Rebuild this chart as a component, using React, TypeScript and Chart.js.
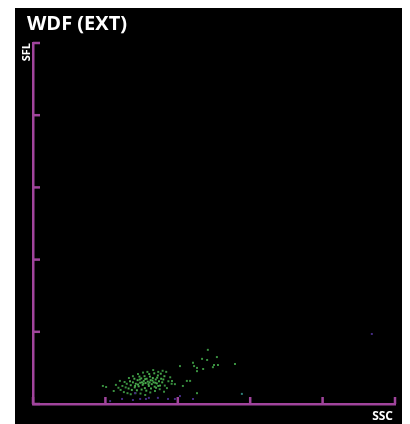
import React, { useEffect, useRef } from "react";
import { Chart, registerables } from "chart.js";

Chart.register(...registerables);

// Axis range and tick spacing (arbitrary channel units)
const xTicks = [0, 20, 40, 60, 80, 100];
const yTicks = [0, 20, 40, 60, 80, 100];

const titleText = "WDF (EXT)";
const xAxisLabel = "SSC";
const yAxisLabel = "SFL";

// Main neutrophil/eosinophil cloud
const greenCore: [number, number][] = [
  [27.0, 5.2], [27.6, 6.0], [28.1, 4.6], [28.4, 5.6], [28.9, 6.6], [29.2, 4.9], [29.6, 5.9],
  [29.9, 7.1], [30.3, 5.3], [30.6, 6.4], [30.9, 4.4], [31.1, 5.8], [31.4, 7.0], [31.7, 6.2],
  [32.0, 5.0], [32.3, 7.6], [32.5, 6.6], [32.8, 5.5], [33.1, 7.2], [33.3, 6.0], [33.6, 4.8],
  [33.9, 6.8], [34.2, 5.7], [34.5, 7.9], [34.8, 6.3], [35.1, 5.1], [35.4, 7.0], [35.7, 6.0],
  [26.4, 4.3], [26.8, 6.3], [27.3, 3.9], [28.0, 7.0], [28.7, 3.8], [29.4, 7.6], [30.0, 4.0],
  [30.8, 7.7], [31.3, 3.7], [32.1, 8.3], [32.6, 4.3], [33.5, 8.5], [34.0, 4.5], [34.6, 5.0],
  [35.3, 8.4], [36.0, 6.8], [36.3, 7.7], [29.0, 5.4], [30.1, 6.0], [31.9, 5.5], [33.0, 6.5],
  [31.0, 6.9], [28.2, 5.0], [30.5, 5.7], [32.2, 6.0], [33.8, 5.9], [29.5, 6.8], [34.3, 7.3],
];

const greenOuter: [number, number][] = [
  [24.2, 3.9], [24.7, 5.0], [25.1, 3.3], [25.6, 4.6], [25.9, 5.6], [26.1, 3.0], [27.0, 2.7],
  [28.3, 3.0], [29.7, 2.9], [31.0, 2.5], [32.4, 3.2], [33.7, 3.6], [35.0, 4.1], [36.4, 5.1],
  [36.8, 8.9], [35.8, 9.2], [34.6, 8.9], [33.2, 9.4], [31.6, 8.9], [30.4, 8.7], [29.0, 8.3],
  [27.6, 7.7], [26.5, 7.2], [25.3, 6.1], [23.6, 4.5], [22.9, 5.3], [24.0, 6.4], [37.4, 6.3],
  [37.9, 7.4], [38.3, 5.6], [37.0, 4.4], [36.2, 3.4], [22.3, 3.6],
];

// Scattered events above and right of the cloud
const greenSparse: [number, number][] = [
  [19.3, 5.0], [20.2, 4.7], [38.4, 6.4], [39.2, 5.5], [41.4, 5.0], [42.5, 6.4], [43.4, 6.4],
  [40.6, 10.5], [44.2, 11.4], [44.5, 10.5], [45.3, 10.0], [45.3, 9.1], [46.7, 12.5],
  [47.0, 9.7], [48.3, 15.0], [48.1, 12.2], [49.7, 10.2], [50.0, 10.8], [50.8, 13.0],
  [51.1, 10.8], [55.8, 11.1], [45.3, 3.0],
];

const tealEvents: [number, number][] = [[57.7, 2.8]];

// Low-fluorescence debris near the baseline
const purpleEvents: [number, number][] = [
  [21.3, 0.8], [24.6, 1.4], [27.6, 1.1], [28.2, 3.0], [29.6, 1.4], [31.2, 1.4], [32.0, 1.7],
  [34.5, 1.7], [37.3, 1.4], [39.2, 1.4], [40.6, 2.2], [44.2, 1.4], [93.6, 19.4],
];

const AXIS_COLOR = "#a0449c";
const FONT = "'Open Sans', 'DejaVu Sans', sans-serif";

const toPoints = (arr: [number, number][]) => arr.map(([x, y]) => ({ x, y }));

const dotSet = (data: [number, number][], color: string, r = 1.4) => ({
  data: toPoints(data),
  backgroundColor: color,
  borderWidth: 0,
  pointStyle: "rect" as const,
  pointRadius: r,
  pointHoverRadius: r,
});

const decorations = {
  id: "wdfDecorations",
  afterDraw(chart: any) {
    const { ctx, chartArea, scales } = chart;
    const xs = scales.x;
    const ys = scales.y;
    ctx.save();
    // inward tick marks
    ctx.strokeStyle = AXIS_COLOR;
    ctx.lineWidth = 2.5;
    ctx.lineCap = "butt";
    const tickLen = 7;
    xTicks.forEach((v) => {
      const px = xs.getPixelForValue(v);
      ctx.beginPath();
      ctx.moveTo(px, chartArea.bottom);
      ctx.lineTo(px, chartArea.bottom - tickLen);
      ctx.stroke();
    });
    yTicks.forEach((v) => {
      const py = ys.getPixelForValue(v);
      ctx.beginPath();
      ctx.moveTo(chartArea.left, py);
      ctx.lineTo(chartArea.left + tickLen, py);
      ctx.stroke();
    });

    // texts
    ctx.fillStyle = "#ffffff";
    ctx.textBaseline = "alphabetic";
    ctx.font = `bold 20px ${FONT}`;
    ctx.textAlign = "left";
    ctx.fillText(titleText, 12, 22);

    ctx.font = `bold 12px ${FONT}`;
    ctx.textAlign = "right";
    ctx.fillText(xAxisLabel, chartArea.right - 2, chartArea.bottom + 16);

    ctx.font = `bold 11px ${FONT}`;
    ctx.translate(chartArea.left - 3, chartArea.top);
    ctx.rotate(-Math.PI / 2);
    ctx.textAlign = "right";
    ctx.fillText(yAxisLabel, 0, 0);
    ctx.restore();
  },
};

export default function App() {
  const canvasRef = useRef<HTMLCanvasElement | null>(null);

  useEffect(() => {
    if (!canvasRef.current) return;
    const chart = new Chart(canvasRef.current, {
      type: "scatter",
      data: {
        datasets: [
          dotSet(purpleEvents, "#452c84"),
          dotSet(tealEvents, "#2e7f78"),
          dotSet(greenSparse, "#3a9140"),
          dotSet(greenOuter, "#3a9140"),
          dotSet(greenCore, "#47a84b"),
        ],
      },
      options: {
        responsive: false,
        animation: false,
        events: [],
        layout: { padding: { left: 18, top: 35, right: 10, bottom: 20 } },
        plugins: {
          legend: { display: false },
          tooltip: { enabled: false },
          title: { display: false },
        },
        scales: {
          x: {
            type: "linear",
            min: 0,
            max: 100,
            ticks: { display: false, stepSize: 20 },
            grid: { display: true, drawOnChartArea: false, drawTicks: false },
            border: { display: true, color: AXIS_COLOR, width: 2.5 },
          },
          y: {
            type: "linear",
            min: 0,
            max: 100,
            ticks: { display: false, stepSize: 20 },
            grid: { display: true, drawOnChartArea: false, drawTicks: false },
            border: { display: true, color: AXIS_COLOR, width: 2.5 },
          },
        },
      },
      plugins: [decorations],
    });
    return () => chart.destroy();
  }, []);

  return (
    <div style={{ marginLeft: 7, width: 390, height: 416, background: "#000" }}>
      <canvas ref={canvasRef} width={390} height={416} style={{ display: "block" }} />
    </div>
  );
}
